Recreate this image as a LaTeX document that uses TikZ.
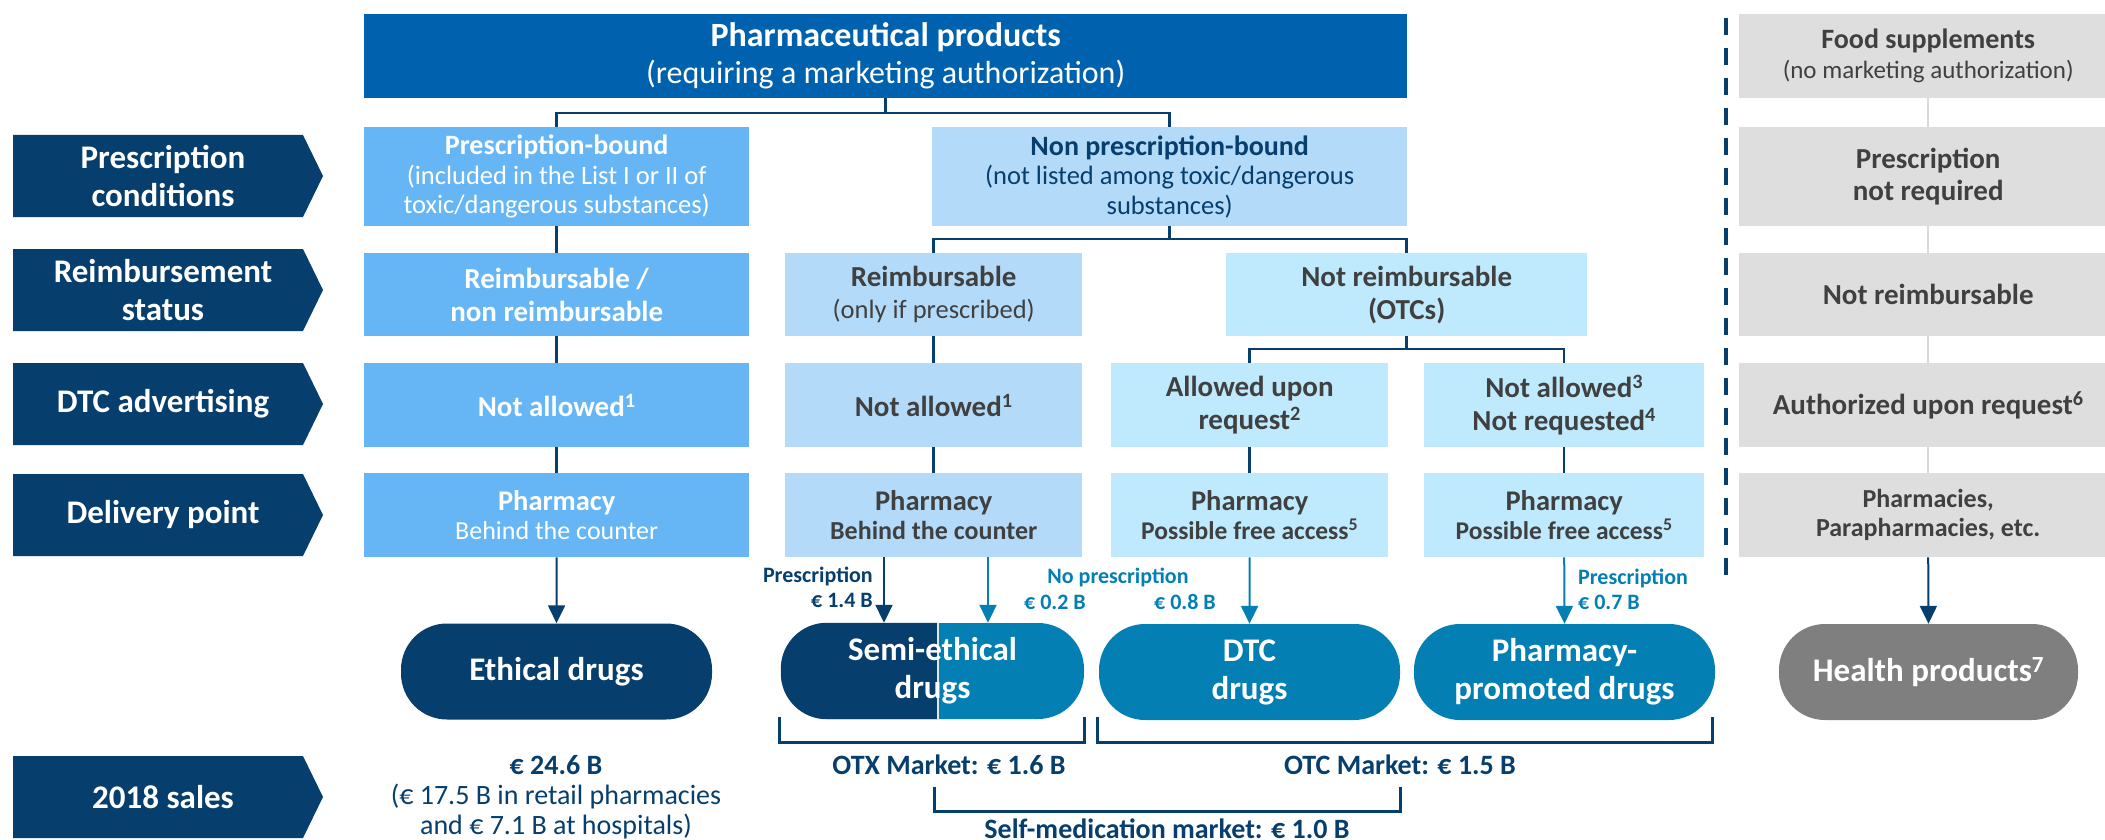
\documentclass[tikz,border=0pt]{standalone}
\usepackage{fontspec}
\setmainfont{Carlito}
\usetikzlibrary{arrows.meta}
\definecolor{cNavy}{RGB}{6,62,110}
\definecolor{cTop}{RGB}{0,98,174}
\definecolor{cPresc}{RGB}{102,182,246}
\definecolor{cNon}{RGB}{179,219,249}
\definecolor{cOtc}{RGB}{191,233,252}
\definecolor{cGbox}{RGB}{222,222,222}
\definecolor{cDgray}{RGB}{64,64,64}
\definecolor{cTeal}{RGB}{3,127,180}
\definecolor{cHgray}{RGB}{127,127,127}
\definecolor{cGline}{RGB}{217,217,217}
\newcommand{\fz}[2]{\fontsize{#1}{#2}\selectfont}
\newcommand{\rowlab}[3]{%
  \fill[cNavy] (13,#2-41) -- (303,#2-41) -- (323,#2) -- (303,#2+41) -- (13,#2+41) -- cycle;
  \node[rl] (#1) at (163,#2) {#3};}
\begin{document}
\begin{tikzpicture}[x=1pt,y=-1pt,
  every node/.style={inner sep=0pt, align=center},
  bx/.style={anchor=north west},
  rl/.style={text=white, font=\fz{33}{38}\bfseries},
  conn/.style={draw=cNavy, line width=2.5pt},
  gconn/.style={draw=cGline, line width=2.5pt},
  arr/.style={draw=cNavy, line width=2pt, -{Triangle[width=17pt,length=18pt]}},
  tarr/.style={draw=cTeal, line width=2pt, -{Triangle[width=17pt,length=18pt]}},
  pill/.style={rounded corners=46pt, minimum height=96pt, text=white, font=\fz{33}{38}\bfseries},
  brk/.style={draw=cNavy, line width=3pt},
  lbl/.style={font=\fz{22}{25}\bfseries},
  mk/.style={font=\fz{28}{32}\bfseries, text=cNavy}
]
\useasboundingbox (0,0) rectangle (2105,840);

% row labels
\rowlab{rl1}{176}{Prescription\\conditions}
\rowlab{rl2}{290}{Reimbursement\\status}
\rowlab{rl3}{404}{DTC advertising}
\rowlab{rl4}{515}{Delivery point}
\rowlab{rl5}{797}{2018 sales}

% top row
\node[bx, fill=cTop, minimum width=1043pt, minimum height=84pt, text=white, font=\fz{32}{37}] (top) at (364,14)
  {{\fz{34}{37}\bfseries Pharmaceutical products}\\(requiring a marketing authorization)};
\node[bx, fill=cGbox, minimum width=378pt, minimum height=84pt, text=cDgray, font=\fz{25}{30}] (g1) at (1739,14)
  {{\fz{28}{30}\bfseries Food supplements}\\(no marketing authorization)};

% prescription conditions
\node[bx, fill=cPresc, minimum width=385pt, minimum height=99pt, text=white, font=\fz{26.5}{29.5}] (p1) at (364,127)
  {{\fz{28}{29.5}\bfseries Prescription-bound}\\(included in the List I or II of\\toxic/dangerous substances)};
\node[bx, fill=cNon, minimum width=475pt, minimum height=99pt, text=cNavy, font=\fz{26.5}{29.5}] (p2) at (932,127)
  {{\fz{28}{29.5}\bfseries Non prescription-bound}\\(not listed among toxic/dangerous\\substances)};
\node[bx, fill=cGbox, minimum width=378pt, minimum height=99pt, text=cDgray, font=\fz{29}{32}\bfseries] (g2) at (1739,127)
  {Prescription\\not required};

% reimbursement
\node[bx, fill=cPresc, minimum width=385pt, minimum height=83pt, text=white, font=\fz{29}{33}\bfseries] (r1) at (364,253)
  {Reimbursable /\\non reimbursable};
\node[bx, fill=cNon, minimum width=297pt, minimum height=83pt, text=cDgray, font=\fz{26.5}{32}] (r2) at (785,253)
  {{\fz{29}{32}\bfseries Reimbursable}\\(only if prescribed)};
\node[bx, fill=cOtc, minimum width=361pt, minimum height=83pt, text=cDgray, font=\fz{29}{33}\bfseries] (r3) at (1226,253)
  {Not reimbursable\\(OTCs)};
\node[bx, fill=cGbox, minimum width=378pt, minimum height=83pt, text=cDgray, font=\fz{29}{33}\bfseries] (g3) at (1739,253)
  {Not reimbursable};

% DTC advertising
\node[bx, fill=cPresc, minimum width=385pt, minimum height=84pt, text=white, font=\fz{29}{33}\bfseries] (d1) at (364,363)
  {Not allowed\textsuperscript{1}};
\node[bx, fill=cNon, minimum width=297pt, minimum height=84pt, text=cDgray, font=\fz{29}{33}\bfseries] (d2) at (785,363)
  {Not allowed\textsuperscript{1}};
\node[bx, fill=cOtc, minimum width=277pt, minimum height=84pt, text=cDgray, font=\fz{29}{33}\bfseries] (d3) at (1111,363)
  {Allowed upon\\request\textsuperscript{2}};
\node[bx, fill=cOtc, minimum width=280pt, minimum height=84pt, text=cDgray, font=\fz{29}{33}\bfseries] (d4) at (1424,363)
  {Not allowed\textsuperscript{3}\\Not requested\textsuperscript{4}};
\node[bx, fill=cGbox, minimum width=378pt, minimum height=84pt, text=cDgray, font=\fz{29}{33}\bfseries] (g4) at (1739,363)
  {Authorized upon request\textsuperscript{6}};

% delivery point
\node[bx, fill=cPresc, minimum width=385pt, minimum height=84pt, text=white, font=\fz{26}{29}] (e1) at (364,473)
  {{\fz{28.5}{29}\bfseries Pharmacy}\\Behind the counter};
\node[bx, fill=cNon, minimum width=297pt, minimum height=84pt, text=cDgray, font=\fz{26}{29}\bfseries] (e2) at (785,473)
  {{\fz{28.5}{29}Pharmacy}\\Behind the counter};
\node[bx, fill=cOtc, minimum width=277pt, minimum height=84pt, text=cDgray, font=\fz{25.5}{29}\bfseries] (e3) at (1111,473)
  {{\fz{28.5}{29}Pharmacy}\\Possible free access\textsuperscript{5}};
\node[bx, fill=cOtc, minimum width=280pt, minimum height=84pt, text=cDgray, font=\fz{25.5}{29}\bfseries] (e4) at (1424,473)
  {{\fz{28.5}{29}Pharmacy}\\Possible free access\textsuperscript{5}};
\node[bx, fill=cGbox, minimum width=378pt, minimum height=84pt, text=cDgray, font=\fz{26}{29}\bfseries] (g5) at (1739,473)
  {Pharmacies,\\Parapharmacies, etc.};

% tree connectors
\coordinate (j1) at (885,113);
\coordinate (j2) at (1169,239);
\coordinate (j3) at (1407,349);
\draw[conn] (top.south) -- (top.south |- j1);
\draw[conn] (p1.north) |- (top.south |- j1) -| (p2.north);
\draw[conn] (p2.south) -- (p2.south |- j2);
\draw[conn] (r2.north) |- (p2.south |- j2) -| (r3.north);
\draw[conn] (r3.south) -- (r3.south |- j3);
\draw[conn] (d3.north) |- (r3.south |- j3) -| (d4.north);
\draw[conn] (p1.south) -- (r1.north);
\draw[conn] (r1.south) -- (d1.north);
\draw[conn] (d1.south) -- (e1.north);
\draw[conn] (r2.south) -- (d2.north);
\draw[conn] (d2.south) -- (e2.north);
\draw[conn] (d3.south) -- (e3.north);
\draw[conn] (d4.south) -- (e4.north);
\draw[gconn] (g1.south) -- (g2.north);
\draw[gconn] (g2.south) -- (g3.north);
\draw[gconn] (g3.south) -- (g4.north);
\draw[gconn] (g4.south) -- (g5.north);

% dashed separator
\coordinate (ds1) at (1726,18);
\coordinate (ds2) at (1726,578);
\draw[cNavy, line width=4pt, dash pattern=on 17pt off 13pt] (ds1) -- (ds2);

% pills
\node[pill, fill=cNavy, minimum width=311pt] (eth) at (556.5,671.5) {Ethical drugs};
\node[pill, fill=cTeal, minimum width=303pt] (semi) at (932.5,671) {};
\begin{scope}
  \clip (770,600) rectangle (938,740);
  \fill[cNavy, rounded corners=46pt] (semi.north west) rectangle (semi.south east);
\end{scope}
\coordinate (sdiv) at (938,0);
\draw[white!80!gray, line width=2pt] (sdiv |- semi.north) -- (sdiv |- semi.south);
\node[text=white, font=\fz{33}{38}\bfseries] (semitxt) at (semi.center) {Semi-ethical\\drugs};
\node[pill, fill=cTeal, minimum width=301pt] (dtc) at (1249.5,672) {DTC\\drugs};
\node[pill, fill=cTeal, minimum width=301pt] (pp) at (1564.5,672) {Pharmacy-\\promoted drugs};
\node[pill, fill=cHgray, minimum width=299pt] (hp) at (1928.5,672) {Health products\textsuperscript{7}};

% arrows
\coordinate (ax1) at (884,0);
\coordinate (ax2) at (988,0);
\draw[arr] (e1.south) -- (eth.north);
\draw[arr] (ax1 |- e2.south) -- (ax1 |- semi.north);
\draw[tarr] (ax2 |- e2.south) -- (ax2 |- semi.north);
\draw[tarr] (e3.south) -- (dtc.north);
\draw[tarr] (e4.south) -- (pp.north);
\draw[arr] (g5.south) -- (hp.north);

% arrow labels
\node[lbl, text=cNavy, anchor=east, align=right] (lb1) at (873,587) {Prescription\\€ 1.4 B};
\node[lbl, text=cTeal] (lb2) at (1118,577) {No prescription};
\node[lbl, text=cTeal, anchor=east] (lb3) at (1086,602) {€ 0.2 B};
\node[lbl, text=cTeal, anchor=east] (lb4) at (1216,602) {€ 0.8 B};
\node[lbl, text=cTeal, anchor=west, align=left] (lb5) at (1578,589) {Prescription\\€ 0.7 B};

% brackets
\coordinate (b1a) at (779,717); \coordinate (b1b) at (1084,742);
\coordinate (b2a) at (1097,717); \coordinate (b2b) at (1712,742);
\coordinate (b3a) at (934,787); \coordinate (b3b) at (1400,811);
\draw[brk] (b1a) -- (b1a |- b1b) -- (b1b) -- (b1b |- b1a);
\draw[brk] (b2a) -- (b2a |- b2b) -- (b2b) -- (b2b |- b2a);
\draw[brk] (b3a) -- (b3a |- b3b) -- (b3b) -- (b3b |- b3a);
\node[mk] (otx) at (949,765) {OTX Market: € 1.6 B};
\node[mk] (otc) at (1400,765) {OTC Market: € 1.5 B};
\node[mk] (self) at (1167,829) {Self-medication market: € 1.0 B};

% sales
\node[text=cNavy, font=\fz{28}{30}] (sales) at (556,797)
  {{\bfseries € 24.6 B}\\(€ 17.5 B in retail pharmacies\\and € 7.1 B at hospitals)};
\end{tikzpicture}
\end{document}
